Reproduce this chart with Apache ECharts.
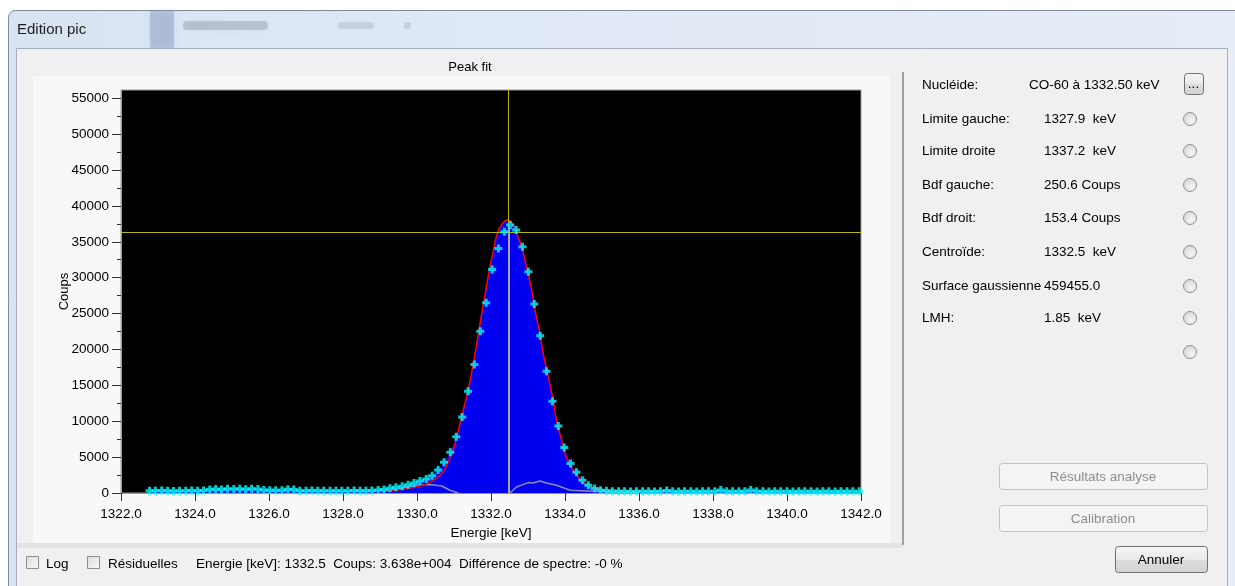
<!DOCTYPE html>
<html>
<head>
<meta charset="utf-8">
<title>Edition pic</title>
<script src="https://cdn.jsdelivr.net/npm/echarts@6/dist/echarts.min.js"></script>
<style>
    html, body { margin: 0; padding: 0; background: #ffffff; }
    #chart { width: 1235px; height: 586px; }
</style>
</head>
<body>
<div id="chart"></div>
<script>
// channel energies (keV) of the measured spectrum
const energies = [
    1322.77, 1322.93, 1323.10, 1323.26, 1323.42, 1323.58, 1323.75, 1323.91, 1324.07, 1324.23,
    1324.40, 1324.56, 1324.72, 1324.88, 1325.05, 1325.21, 1325.37, 1325.53, 1325.70, 1325.86,
    1326.02, 1326.18, 1326.35, 1326.51, 1326.67, 1326.83, 1327.00, 1327.16, 1327.32, 1327.48,
    1327.65, 1327.81, 1327.97, 1328.13, 1328.30, 1328.46, 1328.62, 1328.78, 1328.95, 1329.11,
    1329.27, 1329.43, 1329.60, 1329.76, 1329.92, 1330.08, 1330.25, 1330.41, 1330.57, 1330.73,
    1330.90, 1331.06, 1331.22, 1331.38, 1331.55, 1331.71, 1331.87, 1332.03, 1332.20, 1332.36,
    1332.52, 1332.68, 1332.85, 1333.01, 1333.17, 1333.33, 1333.50, 1333.66, 1333.82, 1333.98,
    1334.15, 1334.31, 1334.47, 1334.63, 1334.80, 1334.96, 1335.12, 1335.28, 1335.45, 1335.61,
    1335.77, 1335.93, 1336.10, 1336.26, 1336.42, 1336.58, 1336.75, 1336.91, 1337.07, 1337.23,
    1337.40, 1337.56, 1337.72, 1337.88, 1338.05, 1338.21, 1338.37, 1338.53, 1338.70, 1338.86,
    1339.02, 1339.18, 1339.35, 1339.51, 1339.67, 1339.83, 1340.00, 1340.16, 1340.32, 1340.48,
    1340.65, 1340.81, 1340.97, 1341.13, 1341.30, 1341.46, 1341.62, 1341.78, 1341.95
];

// counts per channel (cyan crosses)
const counts = [
    320, 300, 340, 310, 290, 330, 310, 350, 300, 360,
    500, 540, 480, 590, 540, 600, 520, 580, 560, 420,
    380, 400, 370, 520, 480, 330, 310, 340, 300, 320,
    310, 330, 300, 320, 340, 310, 330, 350, 420, 500,
    650, 800, 930, 1160, 1380, 1680, 1950, 2400, 3210, 4280,
    5680, 7850, 10600, 14180, 17900, 22550, 26500, 31150, 34080, 36400,
    37340, 36640, 34310, 30820, 26320, 21900, 16970, 12790, 9320, 6330,
    4100, 2880, 1770, 1070, 610, 380, 300, 260, 240, 250,
    220, 240, 230, 250, 220, 260, 350, 240, 220, 230,
    250, 220, 240, 230, 260, 420, 250, 230, 240, 260,
    420, 250, 230, 220, 240, 230, 250, 220, 240, 230,
    250, 220, 240, 230, 220, 240, 230, 250, 240
];

// gaussian fit
const fitEnergies = [
    1329.04, 1329.50, 1329.81, 1330.17, 1330.44, 1330.67, 1330.80, 1330.94, 1331.03, 1331.18,
    1331.36, 1331.48, 1331.57, 1331.66, 1331.75, 1331.86, 1331.97, 1332.06, 1332.17, 1332.30,
    1332.45, 1332.60, 1332.69, 1332.83, 1332.96, 1333.10, 1333.19, 1333.32, 1333.41, 1333.55,
    1333.68, 1333.77, 1333.90, 1334.00, 1334.14, 1334.30, 1334.49, 1334.70, 1335.03, 1335.50,
    1336.03, 1336.75
];
const fitCounts = [
    220, 420, 700, 1070, 1770, 2700, 3860, 5490, 6890, 10100,
    13860, 16880, 19440, 22230, 25020, 28270, 31520, 33610, 36180, 37500,
    38030, 37340, 36180, 34310, 31520, 28270, 25480, 22230, 19440, 16180,
    12930, 10140, 7500, 5500, 3860, 2600, 1530, 840, 470, 330,
    280, 230
];

// grey component curves at the foot of the peak
const greyLeftEnergies = [1329.20, 1329.60, 1330.00, 1330.35, 1330.67, 1330.89, 1331.12];
const greyLeftCounts = [250, 650, 1070, 1170, 980, 380, 0];
const greyRightEnergies = [1332.51, 1332.69, 1333.01, 1333.14, 1333.32, 1333.50, 1333.77, 1334.14, 1334.59, 1335.22, 1336.00];
const greyRightCounts = [0, 840, 1450, 1400, 1680, 1400, 1070, 380, 280, 140, 120];

// cursor
const cursorEnergy = 1332.47;
const cursorCounts = 36380;

// axes
const yLabelValues = [0, 5000, 10000, 15000, 20000, 25000, 30000, 35000, 40000, 45000, 50000, 55000];
const yMinorValues = [2500, 7500, 12500, 17500, 22500, 27500, 32500, 37500, 42500, 47500, 52500];

// right hand panel
const fieldNames = ['Nucléide:', 'Limite gauche:', 'Limite droite', 'Bdf gauche:', 'Bdf droit:',
    'Centroïde:', 'Surface gaussienne', 'LMH:'];
const fieldValues = ['CO-60 à 1332.50 keV', '1327.9  keV', '1337.2  keV', '250.6 Coups', '153.4 Coups',
    '1332.5  keV', '459455.0', '1.85  keV'];

const FONT = '"Liberation Sans", Arial, sans-serif';
// plus sign, 8x8 with 3px arms
const crossSymbol = 'path://M2.5,0h3v2.5h2.5v3h-2.5v2.5h-3v-2.5h-2.5v-3h2.5z';

const zip = (xs, ys) => xs.map((x, i) => [x, ys[i]]);

function text(x, y, str, opts) {
    return {
        type: 'text', x: x, y: y, silent: true,
        style: Object.assign({
            text: str, fill: '#000', font: '13.5px ' + FONT,
            verticalAlign: 'middle', align: 'left'
        }, opts || {})
    };
}

function button(x, y, w, h, label, enabled) {
    return [{
        type: 'rect', silent: true,
        shape: { x: x + 0.5, y: y + 0.5, width: w, height: h, r: 3 },
        style: {
            fill: enabled
                ? new echarts.graphic.LinearGradient(0, 0, 0, 1, [
                    { offset: 0, color: '#f6f6f6' }, { offset: 0.5, color: '#e9e9e9' },
                    { offset: 0.5, color: '#dddddd' }, { offset: 1, color: '#d2d2d2' }])
                : '#f4f4f4',
            stroke: enabled ? '#707070' : '#c2c2c2', lineWidth: 1
        }
    }, text(x + w / 2, y + h / 2 + 1, label, { align: 'center', fill: enabled ? '#000' : '#8d8d8d' })];
}

function radio(cx, cy) {
    return {
        type: 'circle', silent: true,
        shape: { cx: cx, cy: cy, r: 6.5 },
        style: {
            fill: new echarts.graphic.RadialGradient(0.6, 0.65, 0.8, [
                { offset: 0, color: '#f6f6f6' }, { offset: 1, color: '#cfcfcf' }]),
            stroke: '#8f8f8f', lineWidth: 1
        }
    };
}

function checkbox(x, y) {
    return {
        type: 'rect', silent: true,
        shape: { x: x + 0.5, y: y + 0.5, width: 12, height: 12 },
        style: {
            fill: new echarts.graphic.LinearGradient(0, 0, 1, 1, [
                { offset: 0, color: '#dcdcdc' }, { offset: 1, color: '#fafafa' }]),
            stroke: '#8e8f8f', lineWidth: 1
        }
    };
}

const graphics = [];
// window frame and title bar
graphics.push({
    type: 'rect', silent: true, z: -10,
    shape: { x: 8.5, y: 10.5, width: 1240, height: 590, r: [7, 7, 0, 0] },
    style: {
        fill: new echarts.graphic.LinearGradient(0, 0, 1, 0, [
            { offset: 0, color: '#d8e3f2' }, { offset: 0.35, color: '#dfe8f5' }, { offset: 1, color: '#e6edf7' }]),
        stroke: '#7f8b9c', lineWidth: 1
    }
});
graphics.push({ type: 'rect', silent: true, z: -9, shape: { x: 150, y: 11, width: 24, height: 37 },
    style: { fill: 'rgba(120,140,180,0.35)', shadowBlur: 6, shadowColor: 'rgba(120,140,180,0.5)' } });
graphics.push({ type: 'rect', silent: true, z: -9, shape: { x: 183, y: 21, width: 85, height: 9, r: 4 },
    style: { fill: 'rgba(80,90,110,0.22)', shadowBlur: 4, shadowColor: 'rgba(80,90,110,0.3)' } });
graphics.push({ type: 'rect', silent: true, z: -9, shape: { x: 338, y: 22, width: 36, height: 7, r: 3 },
    style: { fill: 'rgba(120,130,150,0.18)', shadowBlur: 4, shadowColor: 'rgba(120,130,150,0.3)' } });
graphics.push({ type: 'rect', silent: true, z: -9, shape: { x: 404, y: 22, width: 7, height: 7, r: 3 },
    style: { fill: 'rgba(120,130,150,0.25)' } });
graphics.push(text(17, 30, 'Edition pic', { font: '15px ' + FONT, fill: '#1e1e1e' }));
// client area
graphics.push({ type: 'rect', silent: true, z: -8,
    shape: { x: 16.5, y: 48.5, width: 1211, height: 560 },
    style: { fill: '#f0f0f0', stroke: '#a5b0bf', lineWidth: 1 } });
// chart panel
graphics.push({ type: 'rect', silent: true, z: -7,
    shape: { x: 33, y: 76, width: 857, height: 467 },
    style: { fill: '#f8f8f8' } });
graphics.push({ type: 'rect', silent: true, z: -7,
    shape: { x: 17, y: 543, width: 886, height: 5 },
    style: { fill: '#e3e3e3' } });
graphics.push({ type: 'line', silent: true, z: -6,
    shape: { x1: 903, y1: 72, x2: 903, y2: 545 },
    style: { stroke: '#a0a0a0', lineWidth: 2 } });
graphics.push(text(470, 67, 'Peak fit', { align: 'center', font: '13px ' + FONT }));

// right panel fields
const rowY = [85, 119, 151, 185, 218, 252, 286, 318];
fieldNames.forEach((name, i) => {
    graphics.push(text(922, rowY[i], name));
    graphics.push(text(i === 0 ? 1029 : 1044, rowY[i], fieldValues[i]));
});
graphics.push(...button(1184, 73, 19, 21, '...', true));
[119, 151, 185, 218, 252, 286, 318, 352].forEach(y => graphics.push(radio(1190, y)));
graphics.push(...button(999, 463, 208, 26, 'Résultats analyse', false));
graphics.push(...button(999, 505, 208, 26, 'Calibration', false));
graphics.push(...button(1115, 546, 92, 26, 'Annuler', true));

// bottom bar
graphics.push(checkbox(26, 556));
graphics.push(text(46, 564, 'Log'));
graphics.push(checkbox(87, 556));
graphics.push(text(108, 564, 'Résiduelles'));
graphics.push(text(196, 564, 'Energie [keV]: ' + cursorEnergy.toFixed(1) + '  Coups: 3.638e+004  Différence de spectre: -0 %'));

const chart = echarts.init(document.getElementById('chart'));

chart.setOption({
    animation: false,
    backgroundColor: '#ffffff',
    graphic: graphics,
    grid: {
        left: 121, top: 90, width: 740, height: 403,
        show: true, backgroundColor: '#000000', borderColor: '#9a9a9a', borderWidth: 1
    },
    xAxis: {
        type: 'value', min: 1322, max: 1342, interval: 2,
        name: 'Energie [keV]', nameLocation: 'middle', nameGap: 32,
        nameTextStyle: { color: '#000', fontSize: 13.5, fontFamily: FONT },
        axisLine: { show: true, lineStyle: { color: '#9a9a9a' } },
        axisTick: { show: true, length: 8, lineStyle: { color: '#303030' } },
        axisLabel: { color: '#000', fontSize: 13.5, fontFamily: FONT, margin: 14,
            formatter: v => v.toFixed(1) },
        splitLine: { show: false }
    },
    yAxis: [{
        type: 'value', min: 0, max: 56150, interval: 5000,
        name: 'Coups', nameLocation: 'middle', nameGap: 50, nameRotate: 90, nameMoveOverlap: false,
        nameTextStyle: { color: '#000', fontSize: 13, fontFamily: FONT },
        axisLine: { show: true, lineStyle: { color: '#9a9a9a' } },
        axisTick: { show: true, length: 9, customValues: yLabelValues, lineStyle: { color: '#303030' } },
        axisLabel: { color: '#000', fontSize: 13.5, fontFamily: FONT, margin: 12,
            customValues: yLabelValues, formatter: v => String(v) },
        splitLine: { show: false }
    }, {
        type: 'value', min: 0, max: 56150, position: 'left', offset: 0,
        axisLine: { show: false },
        axisTick: { show: true, length: 4, customValues: yMinorValues, lineStyle: { color: '#303030' } },
        axisLabel: { show: false },
        splitLine: { show: false }
    }],
    series: [{
        name: 'Spectre (surface)', type: 'line', data: zip(energies, counts),
        showSymbol: false, silent: true, z: 1,
        lineStyle: { width: 0 }, areaStyle: { color: '#0000f0', opacity: 1 }
    }, {
        name: 'Ajustement (surface)', type: 'line', data: zip(fitEnergies, fitCounts),
        smooth: 0.4, showSymbol: false, silent: true, z: 1,
        lineStyle: { width: 0 }, areaStyle: { color: '#0000f0', opacity: 1 }
    }, {
        name: 'Curseur', type: 'line', data: [], z: 2, silent: true,
        markLine: {
            silent: true, symbol: 'none', label: { show: false },
            data: [
                { xAxis: cursorEnergy, lineStyle: { color: '#b8b800', width: 1, type: 'solid' } },
                { yAxis: cursorCounts, lineStyle: { color: '#b8b800', width: 1, type: 'solid' } },
                [{ coord: [cursorEnergy, 0], lineStyle: { color: '#aaa69a', width: 2, type: 'solid' } },
                 { coord: [cursorEnergy, cursorCounts + 600] }]
            ]
        }
    }, {
        name: 'Composante gauche', type: 'line', data: zip(greyLeftEnergies, greyLeftCounts),
        showSymbol: false, silent: true, z: 3,
        lineStyle: { color: '#8c8cb4', width: 1.5 }
    }, {
        name: 'Composante droite', type: 'line', data: zip(greyRightEnergies, greyRightCounts),
        showSymbol: false, silent: true, z: 3,
        lineStyle: { color: '#8c8cb4', width: 1.5 }
    }, {
        name: 'Ajustement', type: 'line', data: zip(fitEnergies, fitCounts),
        smooth: 0.4, showSymbol: false, silent: true, z: 4,
        lineStyle: { color: '#ff0000', width: 1.5 }
    }, {
        name: 'Spectre', type: 'scatter', data: zip(energies, counts),
        symbol: crossSymbol, symbolSize: [8, 8], silent: true, z: 5,
        itemStyle: { color: '#00ffff' }
    }]
});
</script>
</body>
</html>
